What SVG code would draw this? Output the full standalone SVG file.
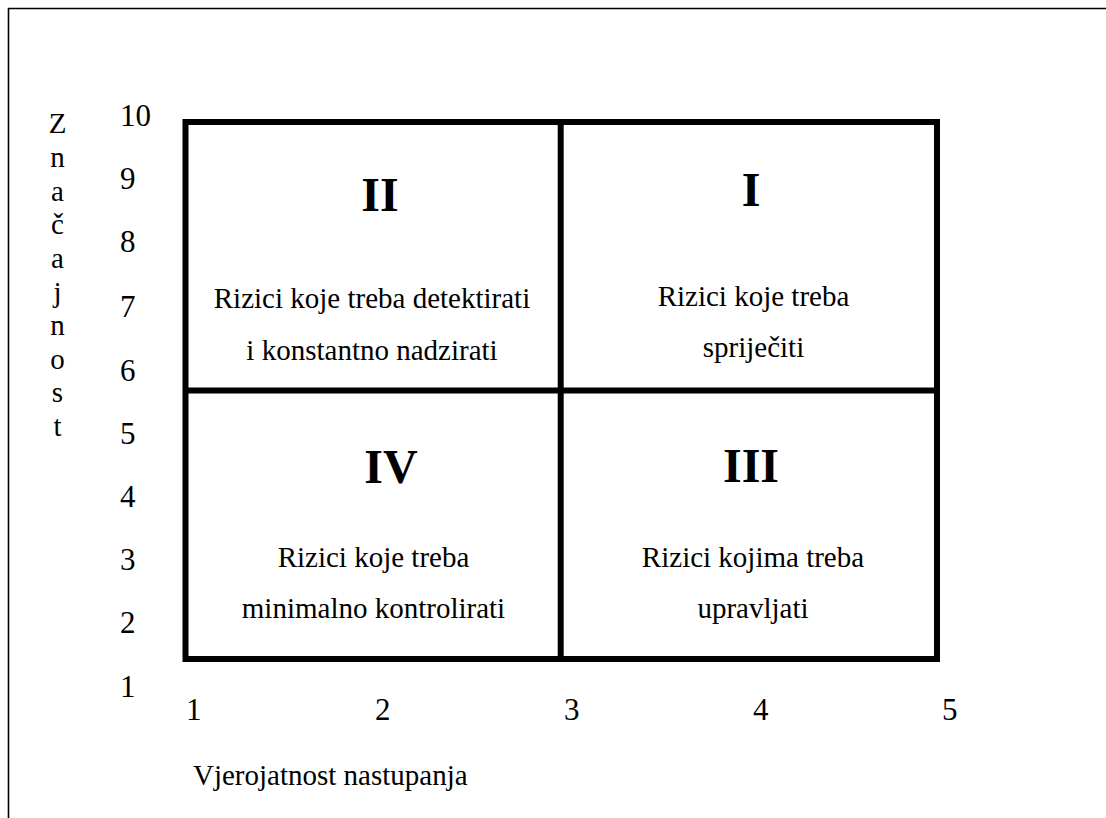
<svg xmlns="http://www.w3.org/2000/svg" width="1106" height="818" viewBox="0 0 1106 818">
<style>
text{font-family:"Liberation Serif","Times New Roman",serif;fill:#000}
.t{font-size:29px;text-anchor:middle}
.r{font-size:48px;font-weight:bold;text-anchor:middle}
.n{font-size:31px}
.v{font-size:29px;text-anchor:middle}
.g{fill:none;stroke:#000;stroke-width:6}
</style>
<rect width="1106" height="818" fill="#fff"/>
<path d="M8.5 818V8.5H1106" fill="none" stroke="#000" stroke-width="1.6"/>
<g id="grid">
<rect class="g" x="185.5" y="122" width="751.5" height="537"/>
<line class="g" x1="560.7" y1="122" x2="560.7" y2="659"/>
<line class="g" x1="185.5" y1="390.5" x2="937" y2="390.5"/>
</g>
<g id="q2">
<text class="r" x="380" y="211">II</text>
<text class="t" x="372" y="308">Rizici koje treba detektirati</text>
<text class="t" x="372" y="360">i konstantno nadzirati</text>
</g>
<g id="q1">
<text class="r" x="751" y="206">I</text>
<text class="t" x="753.5" y="306">Rizici koje treba</text>
<text class="t" x="753.5" y="357">spriječiti</text>
</g>
<g id="q4">
<text class="r" x="391" y="483">IV</text>
<text class="t" x="373.5" y="567">Rizici koje treba</text>
<text class="t" x="373.5" y="618">minimalno kontrolirati</text>
</g>
<g id="q3">
<text class="r" x="751" y="482">III</text>
<text class="t" x="753" y="567">Rizici kojima treba</text>
<text class="t" x="753" y="618">upravljati</text>
</g>
<g id="y-axis">
<text class="n" x="120" y="126">10</text>
<text class="n" x="120" y="189">9</text>
<text class="n" x="120" y="252">8</text>
<text class="n" x="120" y="317">7</text>
<text class="n" x="120" y="381">6</text>
<text class="n" x="120" y="444">5</text>
<text class="n" x="120" y="507">4</text>
<text class="n" x="120" y="570">3</text>
<text class="n" x="120" y="633">2</text>
<text class="n" x="120" y="697">1</text>
</g>
<g id="y-title">
<text class="v" x="57.5" y="133">Z</text>
<text class="v" x="57.5" y="167">n</text>
<text class="v" x="57.5" y="201">a</text>
<text class="v" x="57.5" y="234">č</text>
<text class="v" x="57.5" y="268">a</text>
<text class="v" x="57.5" y="302">j</text>
<text class="v" x="57.5" y="335">n</text>
<text class="v" x="57.5" y="369">o</text>
<text class="v" x="57.5" y="402">s</text>
<text class="v" x="57.5" y="436">t</text>
</g>
<g id="x-axis">
<text class="n" x="186" y="720">1</text>
<text class="n" x="375" y="720">2</text>
<text class="n" x="564" y="720">3</text>
<text class="n" x="753" y="720">4</text>
<text class="n" x="942" y="720">5</text>
</g>
<g id="x-title">
<text style="font-size:29px" x="193" y="785">Vjerojatnost nastupanja</text>
</g>
</svg>
